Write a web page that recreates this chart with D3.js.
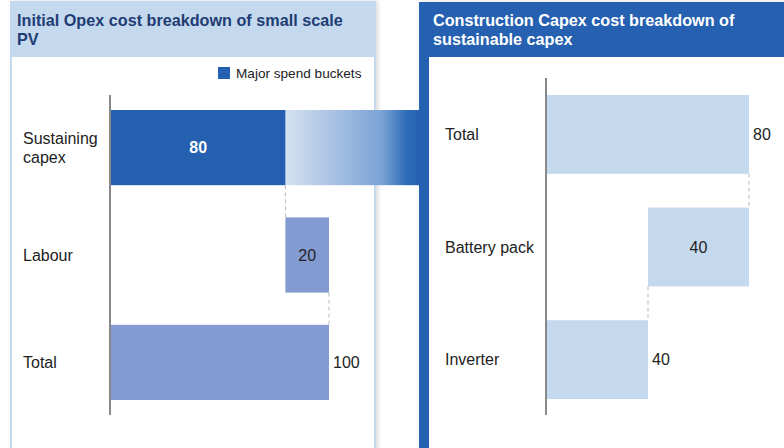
<!DOCTYPE html>
<html>
<head>
<meta charset="utf-8">
<script src="https://cdn.jsdelivr.net/npm/d3@7"></script>
<style>
  body { margin: 0; background: #fff; }
  svg { display: block; font-family: "Liberation Sans", Arial, sans-serif; }
</style>
</head>
<body>
<svg id="chart" width="784" height="448"></svg>
<script>
// data
const leftTitle = ["Initial Opex cost breakdown of small scale", "PV"];
const leftCategories = ["Sustaining capex", "Labour", "Total"];
const leftValues = [80, 20, 100];
const leftTypes = ["delta", "delta", "total"];
const legendLabel = "Major spend buckets";

const rightTitle = ["Construction Capex cost breakdown of", "sustainable capex"];
const rightCategories = ["Total", "Battery pack", "Inverter"];
const rightValues = [80, -40, -40];
const rightTypes = ["total", "delta", "delta"];

const svg = d3.select("#chart");
const W = 784, H = 448;
const DARK = "#2560b0";
const LIGHT = "#c5d9ee";

// turn waterfall steps into [start, end] pairs
function waterfall(values, types) {
    let run = 0;
    return values.map((v, i) => {
        let s, e;
        if (types[i] == "total") { s = 0; e = v; run = v; }
        else { s = run; e = run + v; run = e; }
        return { lo: Math.min(s, e), hi: Math.max(s, e), value: Math.abs(v), type: types[i] };
    });
}

const defs = svg.append("defs");
const shadow = defs.append("filter").attr("id", "shadow")
    .attr("x", "-5%").attr("y", "-5%").attr("width", "110%").attr("height", "110%");
shadow.append("feDropShadow").attr("dx", 2).attr("dy", 0).attr("stdDeviation", 2)
    .attr("flood-color", "#000").attr("flood-opacity", 0.15);

const grad = defs.append("linearGradient").attr("id", "bridge")
    .attr("x1", "0%").attr("x2", "100%").attr("y1", "0%").attr("y2", "0%");
[["0%", "#d4e1f1"], ["35%", "#aac2e4"], ["72%", "#79a2d6"], ["90%", "#2e6cb8"], ["100%", DARK]]
    .forEach(s => grad.append("stop").attr("offset", s[0]).attr("stop-color", s[1]));

// panels
svg.append("rect").attr("x", 11).attr("y", 2).attr("width", 364).attr("height", H)
   .attr("fill", "#fff").attr("stroke", LIGHT).attr("stroke-width", 2)
   .attr("filter", "url(#shadow)");
svg.append("rect").attr("x", 10).attr("y", 2).attr("width", 366).attr("height", 55)
   .attr("fill", LIGHT);

svg.append("rect").attr("x", 419).attr("y", 2).attr("width", W - 419).attr("height", H)
   .attr("fill", DARK).attr("filter", "url(#shadow)");
svg.append("rect").attr("x", 429).attr("y", 57).attr("width", W - 429).attr("height", H)
   .attr("fill", "#fff");

function title(lines, x, color) {
    const t = svg.append("text").attr("x", x).attr("y", 26)
        .attr("font-size", 16.2).attr("font-weight", "bold").attr("fill", color);
    lines.forEach((l, i) => t.append("tspan").attr("x", x).attr("dy", i ? 19 : 0).text(l));
}
title(leftTitle, 17, "#1f3c74");
title(rightTitle, 433, "#fff");

// legend
svg.append("rect").attr("x", 218).attr("y", 67).attr("width", 12).attr("height", 12).attr("fill", DARK);
svg.append("text").attr("x", 236).attr("y", 77.5).attr("font-size", 13.6).attr("fill", "#222")
   .text(legendLabel);

function drawChart(cfg) {
    const data = waterfall(cfg.values, cfg.types);
    const x = d3.scaleLinear().domain([0, d3.max(data, d => d.hi)]).range(cfg.xRange);
    const y = d3.scaleBand().domain(cfg.categories).range(cfg.yRange).paddingInner(0.3);
    const g = svg.append("g");

    // bridge gradient behind first bar
    if (cfg.bridge) {
        g.append("rect").attr("x", x(data[0].hi)).attr("y", y(cfg.categories[0]))
         .attr("width", cfg.bridge - x(data[0].hi)).attr("height", y.bandwidth())
         .attr("fill", "url(#bridge)");
    }

    g.selectAll(".bar").data(data).join("rect")
     .attr("x", d => x(d.lo)).attr("y", (d, i) => y(cfg.categories[i]))
     .attr("width", d => x(d.hi) - x(d.lo)).attr("height", y.bandwidth())
     .attr("fill", (d, i) => cfg.colors[i]);

    // dashed connectors
    for (let i = 0; i < data.length - 1; i++) {
        const xv = cfg.types[i + 1] == "total" ? data[i + 1].hi
                 : (cfg.values[i + 1] >= 0 ? data[i + 1].lo : data[i + 1].hi);
        g.append("line").attr("x1", x(xv)).attr("x2", x(xv))
         .attr("y1", y(cfg.categories[i]) + y.bandwidth()).attr("y2", y(cfg.categories[i + 1]))
         .attr("stroke", "#bbb").attr("stroke-dasharray", "4,3").attr("stroke-width", 1);
    }

    // axis line
    g.append("line").attr("x1", cfg.xRange[0] - 1).attr("x2", cfg.xRange[0] - 1)
     .attr("y1", cfg.axisTop).attr("y2", 415).attr("stroke", "#888").attr("stroke-width", 2);

    // value labels
    data.forEach((d, i) => {
        const inside = d.type == "delta" && i < data.length - 1;
        const yc = y(cfg.categories[i]) + y.bandwidth() / 2;
        g.append("text")
         .attr("x", inside ? (x(d.lo) + x(d.hi)) / 2 : x(d.hi) + 4)
         .attr("y", yc).attr("dy", "0.35em")
         .attr("text-anchor", inside ? "middle" : "start")
         .attr("font-size", 16)
         .attr("font-weight", cfg.labelBold[i] ? "bold" : "normal")
         .attr("fill", cfg.labelColors[i])
         .text(d.value);
    });

    // category labels
    cfg.categories.forEach((c, i) => {
        const yc = y(c) + y.bandwidth() / 2;
        const words = c == "Sustaining capex" ? ["Sustaining", "capex"] : [c];
        const t = g.append("text").attr("x", cfg.catX).attr("font-size", 16).attr("fill", "#222");
        words.forEach((w, k) => t.append("tspan").attr("x", cfg.catX)
            .attr("y", yc + (k - (words.length - 1) / 2) * 19).attr("dy", "0.35em").text(w));
    });
}

drawChart({
    categories: leftCategories, values: leftValues, types: leftTypes,
    xRange: [111, 329], yRange: [110, 400], axisTop: 95, catX: 23, bridge: 420,
    colors: [DARK, "#839bd1", "#839bd1"],
    labelColors: ["#fff", "#222", "#222"], labelBold: [true, false, false]
});

drawChart({
    categories: rightCategories, values: rightValues, types: rightTypes,
    xRange: [547, 749], yRange: [95, 399], axisTop: 78, catX: 445,
    colors: [LIGHT, LIGHT, LIGHT],
    labelColors: ["#222", "#222", "#222"], labelBold: [false, false, false]
});
</script>
</body>
</html>
